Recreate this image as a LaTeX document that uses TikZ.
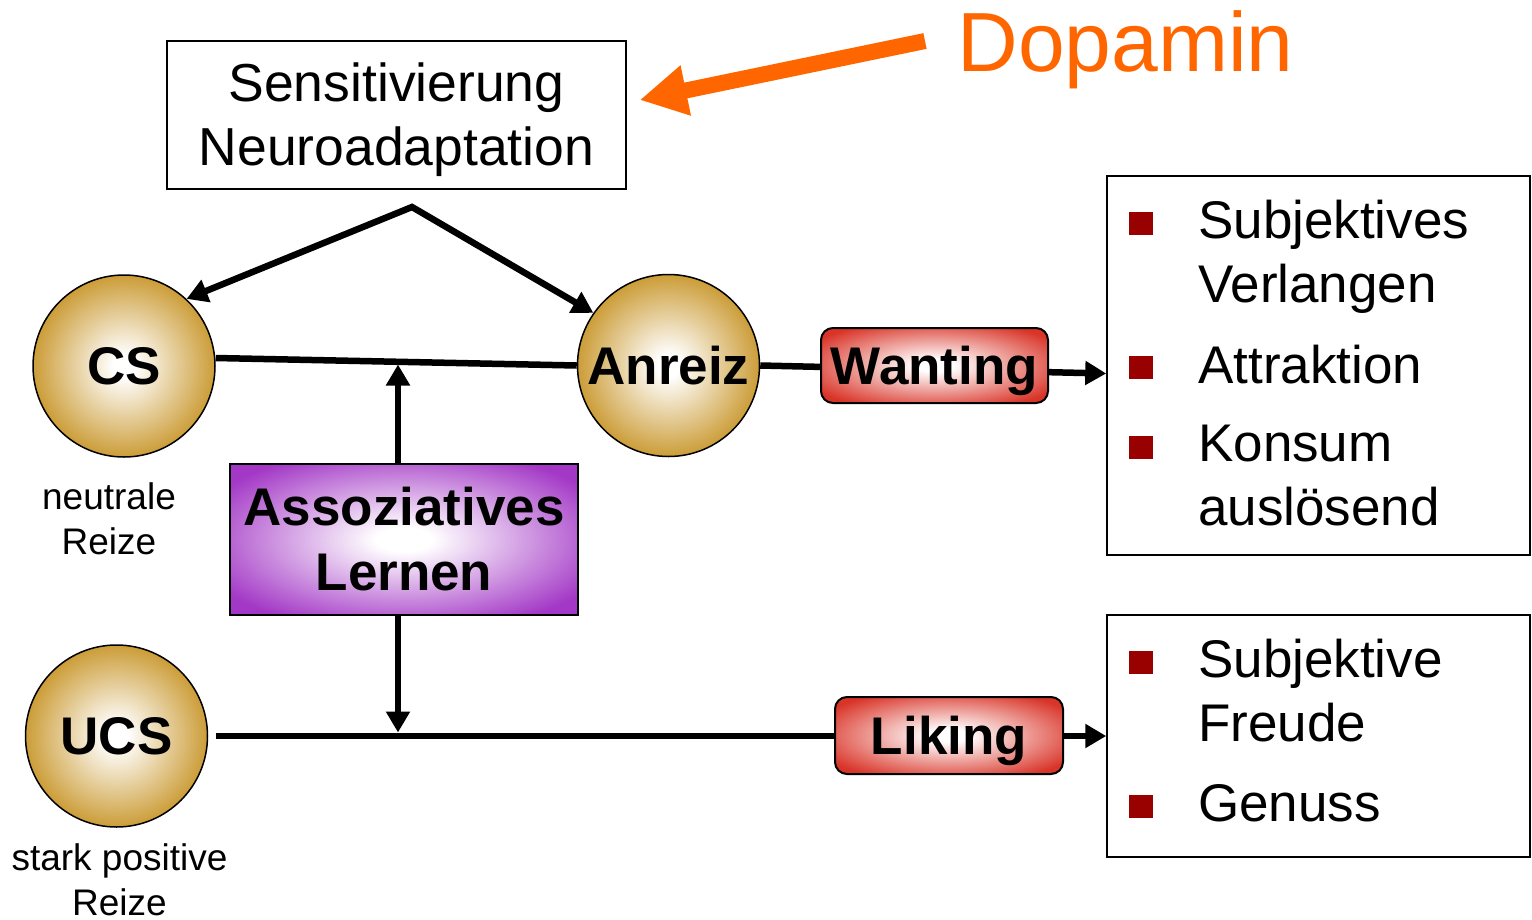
\documentclass[tikz,border=0pt]{standalone}
\usepackage{fontspec}
\setmainfont{Liberation Sans}
\usepackage{xcolor}
\usepackage{tikz}
\usetikzlibrary{%
	arrows.meta%
}
\definecolor{Dopa}{RGB}{255,102,0}
\definecolor{Ball}{RGB}{199,148,38}
\definecolor{Lern}{RGB}{163,56,198}
\definecolor{Want}{RGB}{217,52,40}
\definecolor{Bullet}{RGB}{153,0,0}
\pgfdeclareradialshading{ballshade}{\pgfpoint{0bp}{0bp}}{color(0bp)=(white); color(3bp)=(white); color(27bp)=(Ball); color(50bp)=(Ball)}
\pgfdeclareradialshading{lernshade}{\pgfpoint{0bp}{0bp}}{color(0bp)=(white); color(4bp)=(white); color(31bp)=(Lern); color(50bp)=(Lern)}
\pgfdeclareradialshading{wantshade}{\pgfpoint{0bp}{0bp}}{color(0bp)=(white); color(4bp)=(white); color(31bp)=(Want); color(50bp)=(Want)}
\tikzset{
	ball/.style={circle,draw,line width=1.5pt,minimum size=182pt,inner sep=0pt,shading=ballshade,font=\fontsize{53}{64}\selectfont\bfseries},
	plainbox/.style={rectangle,draw,line width=1.5pt,inner sep=0pt,align=center},
	lernbox/.style={rectangle,draw,line width=2pt,inner sep=0pt,align=center,shading=lernshade,font=\fontsize{53}{65}\selectfont\bfseries},
	wantbox/.style={rectangle,draw,line width=2pt,rounded corners=12pt,inner sep=0pt,text depth=0pt,shading=wantshade,font=\fontsize{53}{64}\selectfont\bfseries},
	listbox/.style={rectangle,draw,line width=1.5pt,minimum width=423pt,inner sep=0pt},
	bullet/.style={rectangle,fill=Bullet,minimum width=24pt,minimum height=23pt,inner sep=0pt},
	item/.style={inner sep=0pt,align=left,font=\fontsize{53}{64}\selectfont},
	small/.style={inner sep=0pt,align=center,font=\fontsize{37}{45}\selectfont},
	link/.style={line width=6.5pt,line join=miter},
	>={Triangle[length=21pt,width=23pt]}
}

\begin{document}
\begin{tikzpicture}[x=1pt,y=-1pt]
\useasboundingbox (0,0) rectangle (1532,919);
% Sensitivierung box
\node [plainbox,minimum width=459pt,minimum height=148pt,font=\fontsize{53.5}{64}\selectfont] (sens) at (396.5,115) {\rule{0pt}{49pt}Sensitivierung\\Neuroadaptation};
% Dopamin
\node [text=Dopa,inner sep=0pt,anchor=base,font=\fontsize{84}{84}\selectfont] (dopa) at (1125.5,71) {Dopamin};
\coordinate (dopa tail) at (925,41);
\draw [Dopa,line width=16pt,-{Triangle[length=47pt,width=48pt]}] (dopa tail) -- ([shift={(13pt,15pt)}]sens.east);
% Stimuli
\node [ball] (cs) at (124,366) {CS};
\node [ball] (anreiz) at (668.5,365.5) {Anreiz};
\node [ball] (ucs) at (116.5,736) {UCS};
\node [small] (cs lbl) at (109,519) {neutrale\\Reize};
\node [small] (ucs lbl) at (119.5,880) {stark positive\\Reize};
% Learning
\node [lernbox,minimum width=348pt,minimum height=151pt] (assoz) at (404,539.5) {Assoziatives\\Lernen};
% Result boxes
\node [listbox,minimum height=379pt] (want res) at (1318.5,365.5) {};
\node [listbox,minimum height=242pt] (like res) at (1318.5,736) {};
\node [bullet] (bul a) at (1141,223.5) {};
\node [bullet] (bul b) at (1141,367.5) {};
\node [bullet] (bul c) at (1141,447.5) {};
\node [bullet] (bul d) at (1141,662) {};
\node [bullet] (bul e) at (1141,806) {};
\node [item,anchor=west] (it a) at (1198,257) {Subjektives\\Verlangen};
\node [item,anchor=base west] (it b) at (1198,383) {Attraktion};
\node [item,anchor=west] (it c) at (1198,475.5) {Konsum\\auslösend};
\node [item,anchor=west] (it d) at (1198,691) {Subjektive\\Freude};
\node [item,anchor=base west] (it e) at (1198,821) {Genuss};
% Connectors
\coordinate (apex) at (412,207);
\draw [link,<->] (cs.47) -- (apex) -- (anreiz.145);
\draw [link] ([yshift=8pt]cs.east) -- (anreiz.west);
\draw [link,->] (anreiz.east) -- ([yshift=-8pt]want res.west);
\draw [link,->] ([xshift=8pt]ucs.east) -- (like res.west);
\coordinate (cs link) at (398,364.5);
\coordinate (ucs link) at (398,732.5);
\draw [link,->] (assoz.north -| cs link) -- (cs link);
\draw [link,->] (assoz.south -| ucs link) -- (ucs link);
% Wanting / Liking on top of the lines
\node [wantbox,minimum width=227pt,minimum height=75pt] (wanting) at (934.5,365.5) {Wanting};
\node [wantbox,minimum width=228pt,minimum height=77pt] (liking) at (949,735.5) {Liking};
\end{tikzpicture}
\end{document}
